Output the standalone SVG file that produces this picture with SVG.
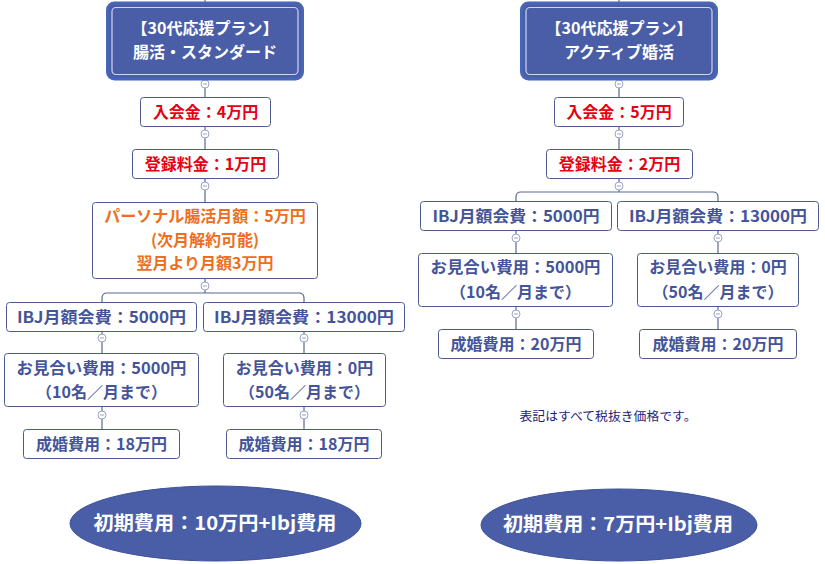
<svg xmlns="http://www.w3.org/2000/svg" width="825" height="564" viewBox="0 0 825 564">
<style>
text{font-family:"Noto Sans CJK JP","Noto Sans CJK SC",sans-serif;font-weight:bold;font-size:16px;text-anchor:middle}
.box{fill:#ffffff;stroke:#4d5a8f;stroke-width:1}
.top-o{fill:#4a5ea8;stroke:#4766b8;stroke-width:3}
.top-i{fill:none;stroke:#cdd6f2;stroke-width:1.2}
.red{fill:#e60012}
.org{fill:#ee6e20}
.nav{fill:#44549a}
.wht{fill:#ffffff}
.ell{fill:#4a5ea8;stroke:#3e5198;stroke-width:1}
.line{fill:none;stroke:#5b6791;stroke-width:1.2}
.dot{fill:#ffffff;stroke:#9aa3c4;stroke-width:1}
.note{font-weight:normal;font-size:12.5px;fill:#1f2378}
</style>
<defs>
<g id="collapse"><circle class="dot" r="4"/><path d="M-2 0H2" stroke="#9aa3c4" stroke-width="1"/></g>
</defs>

<g id="connectors">
<path class="line" d="M205 0V2M205 80V97M205 127V149M205 179V202M205 279V293M102 302V298Q102 293 107 293H299Q304 293 304 298V302M102 332V353M304 332V353M102 407V429M304 407V429"/>
<path class="line" d="M619 0V2M619 80V97M619 127V149M619 179V192M516 201V197Q516 192 521 192H713Q718 192 718 197V201M516 231V253M718 231V253M516 307V329M718 307V329"/>
<use href="#collapse" x="205" y="84"/>
<use href="#collapse" x="205" y="134"/>
<use href="#collapse" x="205" y="186"/>
<use href="#collapse" x="205" y="286"/>
<use href="#collapse" x="102" y="338"/>
<use href="#collapse" x="304" y="338"/>
<use href="#collapse" x="102" y="415"/>
<use href="#collapse" x="304" y="415"/>
<use href="#collapse" x="619" y="84"/>
<use href="#collapse" x="619" y="134"/>
<use href="#collapse" x="619" y="186"/>
<use href="#collapse" x="516" y="238"/>
<use href="#collapse" x="718" y="238"/>
<use href="#collapse" x="516" y="314"/>
<use href="#collapse" x="718" y="314"/>
</g>

<g id="left-root">
<rect class="top-o" x="107.5" y="3" width="195" height="76" rx="7"/>
<rect class="top-i" x="112" y="7.5" width="186" height="67" rx="4"/>
<text class="wht" x="205" y="34">【30代応援プラン】</text>
<text class="wht" x="205" y="58">腸活・スタンダード</text>
</g>
<g id="left-admission">
<rect class="box" x="140.5" y="97.5" width="130" height="29" rx="3"/>
<text class="red" x="205.5" y="118">入会金：4万円</text>
</g>
<g id="left-registration">
<rect class="box" x="132.5" y="149.5" width="146" height="29" rx="3"/>
<text class="red" x="205.5" y="170">登録料金：1万円</text>
</g>
<g id="left-personal">
<rect class="box" x="92.5" y="202.5" width="225" height="76" rx="3"/>
<text class="org" x="205" y="222">パーソナル腸活月額：5万円</text>
<text class="org" x="205" y="245.5">(次月解約可能)</text>
<text class="org" x="205" y="269">翌月より月額3万円</text>
</g>
<g id="left-ibj5000">
<rect class="box" x="6.5" y="302.5" width="190" height="29" rx="3"/>
<text class="nav" x="101.5" y="323" textLength="169" lengthAdjust="spacingAndGlyphs">IBJ月額会費：5000円</text>
</g>
<g id="left-ibj13000">
<rect class="box" x="203.5" y="302.5" width="201" height="29" rx="3"/>
<text class="nav" x="304" y="323" textLength="180" lengthAdjust="spacingAndGlyphs">IBJ月額会費：13000円</text>
</g>
<g id="left-omiai5000">
<rect class="box" x="4.5" y="353.5" width="194" height="53" rx="3"/>
<text class="nav" x="101.5" y="374" textLength="170" lengthAdjust="spacingAndGlyphs">お見合い費用：5000円</text>
<text class="nav" x="101.5" y="398">（10名／月まで）</text>
</g>
<g id="left-omiai0">
<rect class="box" x="223.5" y="353.5" width="162" height="53" rx="3"/>
<text class="nav" x="304.5" y="374">お見合い費用：0円</text>
<text class="nav" x="304.5" y="398">（50名／月まで）</text>
</g>
<g id="left-seikon1">
<rect class="box" x="23.5" y="429.5" width="156" height="29" rx="3"/>
<text class="nav" x="101.5" y="450">成婚費用：18万円</text>
</g>
<g id="left-seikon2">
<rect class="box" x="226.5" y="429.5" width="155" height="29" rx="3"/>
<text class="nav" x="304" y="450">成婚費用：18万円</text>
</g>

<g id="right-root">
<rect class="top-o" x="521.5" y="3" width="195" height="76" rx="7"/>
<rect class="top-i" x="526" y="7.5" width="186" height="67" rx="4"/>
<text class="wht" x="619" y="34">【30代応援プラン】</text>
<text class="wht" x="619" y="58">アクティブ婚活</text>
</g>
<g id="right-admission">
<rect class="box" x="554.5" y="97.5" width="129" height="29" rx="3"/>
<text class="red" x="619" y="118">入会金：5万円</text>
</g>
<g id="right-registration">
<rect class="box" x="546.5" y="149.5" width="146" height="29" rx="3"/>
<text class="red" x="619.5" y="170">登録料金：2万円</text>
</g>
<g id="right-ibj5000">
<rect class="box" x="420.5" y="201.5" width="191" height="29" rx="3"/>
<text class="nav" x="516" y="222" textLength="167" lengthAdjust="spacingAndGlyphs">IBJ月額会費：5000円</text>
</g>
<g id="right-ibj13000">
<rect class="box" x="617.5" y="201.5" width="201" height="29" rx="3"/>
<text class="nav" x="718" y="222" textLength="178" lengthAdjust="spacingAndGlyphs">IBJ月額会費：13000円</text>
</g>
<g id="right-omiai5000">
<rect class="box" x="418.5" y="253.5" width="194" height="53" rx="3"/>
<text class="nav" x="515.5" y="273" textLength="170" lengthAdjust="spacingAndGlyphs">お見合い費用：5000円</text>
<text class="nav" x="515.5" y="298">（10名／月まで）</text>
</g>
<g id="right-omiai0">
<rect class="box" x="637.5" y="253.5" width="161" height="53" rx="3"/>
<text class="nav" x="718" y="273">お見合い費用：0円</text>
<text class="nav" x="718" y="298">（50名／月まで）</text>
</g>
<g id="right-seikon1">
<rect class="box" x="438.5" y="329.5" width="155" height="29" rx="3"/>
<text class="nav" x="516" y="350">成婚費用：20万円</text>
</g>
<g id="right-seikon2">
<rect class="box" x="639.5" y="329.5" width="157" height="29" rx="3"/>
<text class="nav" x="718" y="350">成婚費用：20万円</text>
</g>

<g id="note">
<text class="note" x="608" y="421" textLength="177" lengthAdjust="spacingAndGlyphs">表記はすべて税抜き価格です。</text>
</g>
<g id="left-total">
<ellipse class="ell" cx="215.5" cy="523.5" rx="145.5" ry="37.5"/>
<text class="wht" x="215" y="530" style="font-size:19px" textLength="243" lengthAdjust="spacingAndGlyphs">初期費用：10万円+Ibj費用</text>
</g>
<g id="right-total">
<ellipse class="ell" cx="619" cy="525" rx="138" ry="36"/>
<text class="wht" x="618" y="531" style="font-size:19px" textLength="230" lengthAdjust="spacingAndGlyphs">初期費用：7万円+Ibj費用</text>
</g>
</svg>
